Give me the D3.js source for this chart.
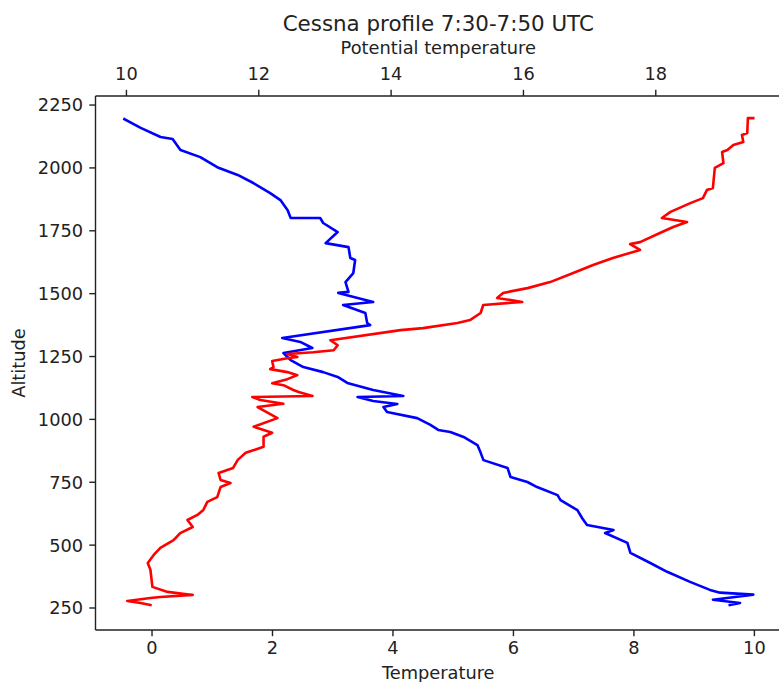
<!DOCTYPE html>
<html>
<head>
<meta charset="utf-8">
<script src="https://d3js.org/d3.v7.min.js"></script>
<style>
  html, body { margin: 0; padding: 0; background: #fff; }
  svg { display: block; }
  text { font-family: "DejaVu Sans", sans-serif; fill: #222; }
</style>
</head>
<body>
<svg id="chart" width="779" height="682"></svg>
<script>
// ---- Data ----
const title = "Cessna profile 7:30-7:50 UTC";
const xLabelBottom = "Temperature";
const xLabelTop = "Potential temperature";
const yLabel = "Altitude";

const altitudeTicks = [250, 500, 750, 1000, 1250, 1500, 1750, 2000, 2250];
const temperatureTicks = [0, 2, 4, 6, 8, 10];
const potentialTicks = [10, 12, 14, 16, 18];

// Temperature profile (blue)
const tempAltitude = [2192, 2157, 2121, 2113, 2069, 2041, 2001, 1970, 1938, 1898, 1870, 1830, 1799, 1799, 1779, 1743, 1699, 1683, 1640, 1632, 1580, 1544, 1505, 1501, 1465, 1453, 1421, 1381, 1373, 1322, 1306, 1282, 1262, 1234, 1206, 1186, 1167, 1143, 1115, 1091, 1087, 1071, 1059, 1047, 1027, 1003, 976, 956, 948, 928, 896, 868, 836, 805, 769, 749, 729, 697, 677, 637, 605, 578, 558, 546, 507, 467, 427, 392, 352, 320, 309, 301, 281, 268, 260];
const temperature = [-0.45, -0.18, 0.15, 0.35, 0.48, 0.81, 1.09, 1.43, 1.69, 1.97, 2.14, 2.26, 2.31, 2.80, 2.85, 3.09, 2.89, 3.27, 3.30, 3.38, 3.35, 3.22, 3.27, 3.10, 3.68, 3.18, 3.55, 3.58, 3.63, 2.17, 2.47, 2.67, 2.19, 2.31, 2.52, 2.85, 3.09, 3.25, 3.68, 4.18, 3.42, 3.68, 4.08, 3.85, 3.91, 4.41, 4.63, 4.76, 4.96, 5.18, 5.41, 5.46, 5.51, 5.91, 5.96, 6.24, 6.40, 6.74, 6.79, 7.07, 7.15, 7.23, 7.67, 7.53, 7.90, 7.95, 8.28, 8.56, 8.94, 9.27, 9.44, 9.99, 9.32, 9.77, 9.60];

// Potential temperature profile (red)
const thetaAltitude = [2196, 2196, 2137, 2129, 2101, 2089, 2069, 2061, 2017, 1998, 1918, 1910, 1878, 1858, 1823, 1799, 1783, 1763, 1739, 1703, 1695, 1672, 1640, 1612, 1580, 1544, 1520, 1501, 1481, 1465, 1453, 1421, 1393, 1381, 1361, 1353, 1313, 1293, 1273, 1265, 1258, 1246, 1242, 1230, 1206, 1198, 1186, 1174, 1158, 1142, 1134, 1115, 1107, 1091, 1087, 1075, 1060, 1047, 1003, 969, 945, 929, 889, 865, 837, 805, 785, 757, 745, 729, 689, 670, 638, 618, 598, 570, 546, 518, 487, 459, 427, 400, 332, 312, 300, 292, 288, 276, 268, 260];
const potentialTemperature = [19.48, 19.40, 19.39, 19.31, 19.33, 19.18, 19.09, 19.01, 19.03, 18.90, 18.87, 18.78, 18.72, 18.53, 18.23, 18.10, 18.48, 18.27, 18.07, 17.77, 17.62, 17.77, 17.36, 17.06, 16.76, 16.41, 16.07, 15.70, 15.61, 15.99, 15.40, 15.36, 15.20, 15.01, 14.49, 14.15, 13.09, 13.20, 13.14, 12.83, 12.44, 12.59, 12.46, 12.21, 12.23, 12.18, 12.44, 12.59, 12.44, 12.21, 12.38, 12.53, 12.61, 12.82, 11.91, 12.03, 12.38, 11.99, 12.29, 11.93, 12.21, 12.08, 12.08, 11.81, 11.69, 11.62, 11.40, 11.43, 11.58, 11.43, 11.38, 11.23, 11.17, 11.08, 10.93, 11.01, 10.82, 10.72, 10.52, 10.42, 10.33, 10.37, 10.40, 10.63, 11.01, 10.52, 10.37, 10.02, 10.22, 10.37];

// ---- Layout ----
const svg = d3.select("#chart");
const plot = { left: 95.5, right: 781, top: 96, bottom: 630 };

const y = d3.scaleLinear().domain([160.5, 2284]).range([plot.bottom, plot.top]);
const xT = d3.scaleLinear().domain([-0.93, 10.45]).range([plot.left, plot.right]);
const xTheta = d3.scaleLinear().domain([9.54, 19.9]).range([plot.left, plot.right]);

const fs = 17.8;
const tickLen = 6.2;
const tickPad = 6.2;

// Lines
const blueData = tempAltitude.map((a, i) => ({ a, v: temperature[i] }));
const redData = thetaAltitude.map((a, i) => ({ a, v: potentialTemperature[i] }));

const lineT = d3.line().x(d => xT(d.v)).y(d => y(d.a));
const lineTheta = d3.line().x(d => xTheta(d.v)).y(d => y(d.a));

svg.append("path").datum(blueData)
  .attr("d", lineT).attr("fill", "none").attr("stroke", "#0000ff")
  .attr("stroke-width", 2.6).attr("stroke-linejoin", "round").attr("stroke-linecap", "square");
svg.append("path").datum(redData)
  .attr("d", lineTheta).attr("fill", "none").attr("stroke", "#ff0000")
  .attr("stroke-width", 2.6).attr("stroke-linejoin", "round").attr("stroke-linecap", "square");

// Spines
const spineColor = "#222";
const spineW = 1.4;
svg.append("line").attr("x1", plot.left).attr("x2", plot.left).attr("y1", plot.top).attr("y2", plot.bottom)
  .attr("stroke", spineColor).attr("stroke-width", spineW);
svg.append("line").attr("x1", plot.left).attr("x2", plot.right).attr("y1", plot.top).attr("y2", plot.top)
  .attr("stroke", spineColor).attr("stroke-width", spineW);
svg.append("line").attr("x1", plot.left).attr("x2", plot.right).attr("y1", plot.bottom).attr("y2", plot.bottom)
  .attr("stroke", spineColor).attr("stroke-width", spineW);

// Axes
function styleAxis(g) {
  g.select(".domain").remove();
  g.selectAll(".tick line").attr("stroke", spineColor).attr("stroke-width", spineW);
  g.selectAll(".tick text").attr("font-family", "DejaVu Sans").attr("font-size", fs).attr("fill", "#222");
}

const gLeft = svg.append("g").attr("transform", `translate(${plot.left},0)`)
  .call(d3.axisLeft(y).tickValues(altitudeTicks).tickSize(tickLen).tickPadding(tickPad).tickFormat(d3.format("d")));
styleAxis(gLeft);
gLeft.selectAll(".tick text").attr("dy", "0.36em");

const gBottom = svg.append("g").attr("transform", `translate(0,${plot.bottom})`)
  .call(d3.axisBottom(xT).tickValues(temperatureTicks).tickSize(tickLen).tickPadding(tickPad).tickFormat(d3.format("d")));
styleAxis(gBottom);
gBottom.selectAll(".tick text").attr("y", 24.4).attr("dy", 0);

const gTop = svg.append("g").attr("transform", `translate(0,${plot.top})`)
  .call(d3.axisTop(xTheta).tickValues(potentialTicks).tickSize(tickLen).tickPadding(tickPad).tickFormat(d3.format("d")));
styleAxis(gTop);
gTop.selectAll(".tick text").attr("y", -15.6).attr("dy", 0);

// Labels
const cx = (plot.left + 781) / 2;
svg.append("text").attr("x", cx).attr("y", 31).attr("text-anchor", "middle")
  .attr("font-size", 21.4).text(title);
svg.append("text").attr("x", cx).attr("y", 54).attr("text-anchor", "middle")
  .attr("font-size", fs).text(xLabelTop);
svg.append("text").attr("x", cx).attr("y", 679).attr("text-anchor", "middle")
  .attr("font-size", fs).text(xLabelBottom);
svg.append("text").attr("transform", `translate(25,${(plot.top + plot.bottom) / 2}) rotate(-90)`)
  .attr("text-anchor", "middle").attr("font-size", fs).text(yLabel);
</script>
</body>
</html>
